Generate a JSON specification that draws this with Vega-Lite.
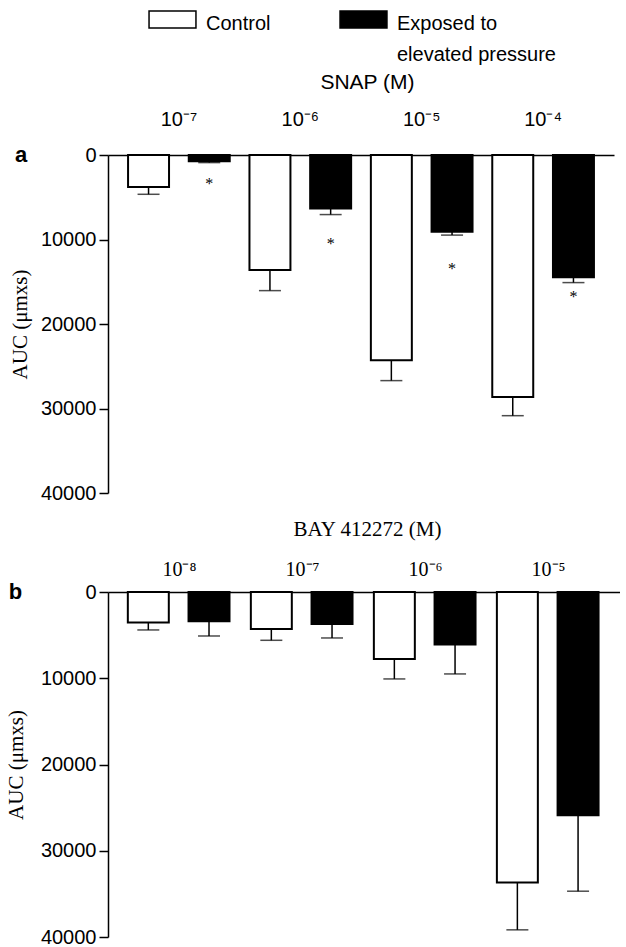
{
  "$schema": "https://vega.github.io/schema/vega-lite/v6.json",
  "padding": {"left": 5, "top": 9, "right": 0, "bottom": 0},
  "background": "white",
  "config": {
    "view": {"stroke": null},
    "axis": {"grid": false, "domainColor": "black", "domainWidth": 1.5, "tickColor": "black", "tickWidth": 1.5, "labelColor": "black", "titleColor": "black", "titleFontWeight": "normal"}
  },
  "datasets": {
    "a": [
      {"conc": "10⁻⁷", "group": "Control", "mean": 3800, "upper": 4650},
      {"conc": "10⁻⁷", "group": "Exposed", "mean": 750, "upper": 900, "star": 2950},
      {"conc": "10⁻⁶", "group": "Control", "mean": 13600, "upper": 16050},
      {"conc": "10⁻⁶", "group": "Exposed", "mean": 6340, "upper": 7050, "star": 10050},
      {"conc": "10⁻⁵", "group": "Control", "mean": 24300, "upper": 26700},
      {"conc": "10⁻⁵", "group": "Exposed", "mean": 9080, "upper": 9480, "star": 13000},
      {"conc": "10⁻⁴", "group": "Control", "mean": 28650, "upper": 30850},
      {"conc": "10⁻⁴", "group": "Exposed", "mean": 14460, "upper": 15100, "star": 16350}
    ],
    "b": [
      {"conc": "10⁻⁸", "group": "Control", "mean": 3550, "upper": 4400},
      {"conc": "10⁻⁸", "group": "Exposed", "mean": 3400, "upper": 5100},
      {"conc": "10⁻⁷", "group": "Control", "mean": 4290, "upper": 5600},
      {"conc": "10⁻⁷", "group": "Exposed", "mean": 3710, "upper": 5330},
      {"conc": "10⁻⁶", "group": "Control", "mean": 7770, "upper": 10080},
      {"conc": "10⁻⁶", "group": "Exposed", "mean": 6100, "upper": 9500},
      {"conc": "10⁻⁵", "group": "Control", "mean": 33690, "upper": 39170},
      {"conc": "10⁻⁵", "group": "Exposed", "mean": 25890, "upper": 34690}
    ]
  },
  "resolve": {"legend": {"fill": "independent"}, "scale": {"x": "independent"}},
  "columns": 1,
  "align": "none",
  "spacing": 15,
  "concat": [
    {
      "width": 506,
      "height": 338,
      "data": {"name": "a"},
      "title": {"text": "a", "orient": "left", "anchor": "end", "frame": "group", "angle": 0, "align": "right", "baseline": "middle", "offset": -30, "font": "Liberation Sans", "fontSize": 22, "fontWeight": "bold", "color": "black"},
      "encoding": {
        "x": {
          "field": "conc", "type": "nominal", "sort": ["10⁻⁷", "10⁻⁶", "10⁻⁵", "10⁻⁴"],
          "scale": {"paddingInner": 0, "paddingOuter": 0.084},
          "axis": {"orient": "top", "title": "SNAP (M)", "titleX": 259, "ticks": false, "tickSize": 0, "labelAngle": 0, "labelPadding": 26, "labelFont": "Liberation Sans", "labelFontSize": 20, "titleFont": "Liberation Sans", "titleFontSize": 21, "titlePadding": 17}
        },
        "xOffset": {"field": "group", "type": "nominal", "sort": ["Control", "Exposed"], "scale": {"paddingInner": 0.325, "paddingOuter": 0.1625}}
      },
      "layer": [
        {
          "mark": {"type": "rule", "color": "black", "strokeWidth": 1.5},
          "encoding": {
            "y": {"field": "mean", "type": "quantitative", "scale": {"domain": [0, 40000], "reverse": true, "nice": false, "zero": true},
              "axis": {"title": "AUC (μmxs)", "titleFont": "Liberation Serif", "titleFontSize": 21, "titlePadding": 10, "values": [0, 10000, 20000, 30000, 40000], "format": "d", "labelFont": "Liberation Sans", "labelFontSize": 20, "tickSize": 9, "labelPadding": 3}},
            "y2": {"field": "upper"}
          }
        },
        {
          "mark": {"type": "bar", "stroke": "black", "strokeWidth": 2},
          "encoding": {
            "y": {"field": "mean", "type": "quantitative"},
            "fill": {"field": "group", "type": "nominal", "scale": {"domain": ["Control", "Exposed"], "range": ["white", "black"]},
              "legend": {"orient": "none", "legendX": 54.5, "legendY": -145.5, "direction": "horizontal", "title": null,
                "symbolType": "M-2.76,-1L2.76,-1L2.76,1L-2.76,1Z", "symbolSize": 289, "symbolStrokeColor": "black", "symbolStrokeWidth": 1.5,
                "labelFont": "Liberation Sans", "labelFontSize": 20, "labelColor": "black", "labelOffset": 23.5, "columnPadding": 66, "labelLimit": 300,
                "labelExpr": "datum.label == 'Exposed' ? ['Exposed to', 'elevated pressure'] : ['Control', ' ']",
                "labelBaseline": "alphabetic",
                "encode": {"labels": {"update": {"dy": {"value": 10}, "lineHeight": {"value": 31}}}}}}
          }
        },
        {
          "mark": {"type": "tick", "color": "black", "size": 22, "thickness": 1.5},
          "encoding": {"y": {"field": "upper", "type": "quantitative"}}
        },
        {
          "mark": {"type": "text", "text": "*", "font": "Liberation Serif", "fontSize": 16, "fill": "black", "baseline": "middle", "dy": 4},
          "encoding": {"y": {"field": "star", "type": "quantitative"}}
        }
      ]
    },
    {
      "width": 512,
      "height": 345,
      "data": {"name": "b"},
      "title": {"text": "b", "orient": "left", "anchor": "end", "frame": "group", "angle": 0, "align": "right", "baseline": "middle", "offset": -30, "font": "Liberation Sans", "fontSize": 22, "fontWeight": "bold", "color": "black"},
      "encoding": {
        "x": {
          "field": "conc", "type": "nominal", "sort": ["10⁻⁸", "10⁻⁷", "10⁻⁶", "10⁻⁵"],
          "scale": {"paddingInner": 0, "paddingOuter": 0.081},
          "axis": {"orient": "top", "title": "BAY 412272 (M)", "titleX": 259, "ticks": false, "tickSize": 0, "labelAngle": 0, "labelPadding": 13, "labelFont": "Liberation Serif", "labelFontSize": 20, "titleFont": "Liberation Serif", "titleFontSize": 21, "titlePadding": 20}
        },
        "xOffset": {"field": "group", "type": "nominal", "sort": ["Control", "Exposed"], "scale": {"paddingInner": 0.325, "paddingOuter": 0.1625}}
      },
      "layer": [
        {
          "mark": {"type": "rule", "color": "black", "strokeWidth": 1.5},
          "encoding": {
            "y": {"field": "mean", "type": "quantitative", "scale": {"domain": [0, 40000], "reverse": true, "nice": false, "zero": true},
              "axis": {"title": "AUC (μmxs)", "titleFont": "Liberation Serif", "titleFontSize": 21, "titlePadding": 13.7, "values": [0, 10000, 20000, 30000, 40000], "format": "d", "labelFont": "Liberation Sans", "labelFontSize": 20, "tickSize": 9, "labelPadding": 3}},
            "y2": {"field": "upper"}
          }
        },
        {
          "mark": {"type": "bar", "stroke": "black", "strokeWidth": 2},
          "encoding": {
            "y": {"field": "mean", "type": "quantitative"},
            "fill": {"field": "group", "type": "nominal", "scale": {"domain": ["Control", "Exposed"], "range": ["white", "black"]}, "legend": null}
          }
        },
        {
          "mark": {"type": "tick", "color": "black", "size": 22, "thickness": 1.5},
          "encoding": {"y": {"field": "upper", "type": "quantitative"}}
        }
      ]
    }
  ]
}
